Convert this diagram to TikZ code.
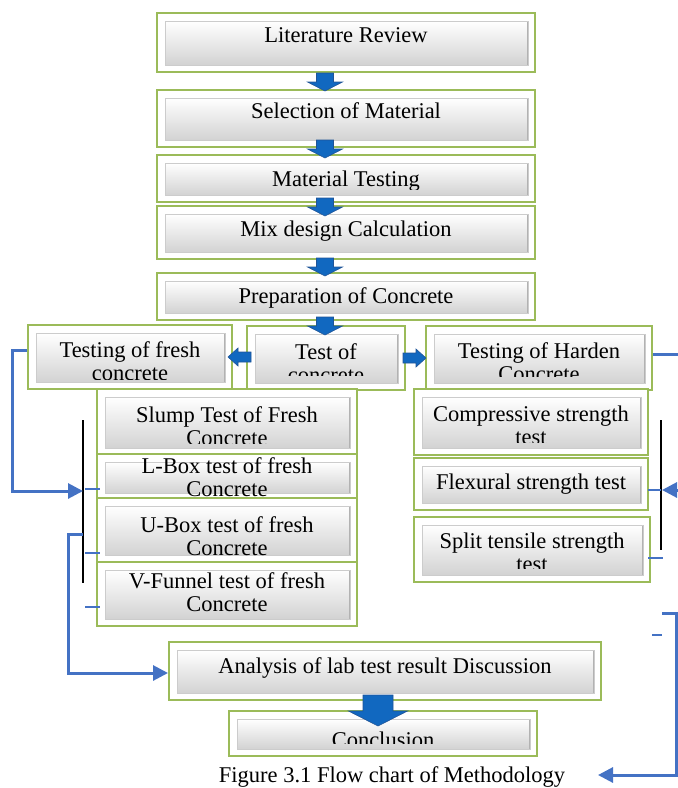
\documentclass[tikz,border=0pt]{standalone}
\usepackage{fontspec}
\setmainfont{Liberation Serif}
\usetikzlibrary{fit}
\usetikzlibrary{arrows.meta}
\definecolor{boxgreen}{RGB}{155,187,89}
\definecolor{linkblue}{RGB}{68,114,196}
\definecolor{arrowblue}{RGB}{17,104,192}
\definecolor{arrowedge}{RGB}{32,84,150}
\tikzset{
	outerbox/.style={draw=boxgreen, line width=2pt, fill=white, inner sep=0pt},
	innerbox/.style={draw=gray!40, line width=0.6pt, top color=white, middle color=white, bottom color=gray!35,
		inner sep=0pt,
		path picture={\draw[gray!60, line width=2.5pt] (path picture bounding box.north east) -- (path picture bounding box.south east);}},
	boxtext/.style={anchor=north, inner sep=0pt, align=center, font=\fontsize{22.5}{23}\selectfont},
	blockarrow/.style={fill=arrowblue, draw=arrowedge, line width=0.6pt},
	link/.style={draw=linkblue, line width=3pt, -{Triangle[length=15pt,width=15pt]}},
	tick/.style={draw=linkblue, line width=1.2pt},
	bar/.style={draw=black, line width=1.6pt},
	downarrow/.pic={\filldraw[blockarrow] (-8.5,-18) -- (8.5,-18) -- (8.5,-9) -- (17.5,-9) -- (0,0) -- (-17.5,-9) -- (-8.5,-9) -- cycle;},
	bigdown/.pic={\filldraw[blockarrow] (-15,-31) -- (15,-31) -- (15,-15) -- (29.5,-15) -- (0,0) -- (-29.5,-15) -- (-15,-15) -- cycle;},
	sidearrow/.pic={\filldraw[blockarrow] (-23,-5) -- (-10,-5) -- (-10,-9) -- (0,0) -- (-10,9) -- (-10,5) -- (-23,5) -- cycle;}
}
\begin{document}
\begin{tikzpicture}[x=1pt, y=-1pt]
	\useasboundingbox (0,0) rectangle (678,788);
	\clip (0,0) rectangle (678,788);
	% boxes: name / outer box / top of text / bottom of text clip / text
	\foreach \n/\xa/\ya/\xb/\yb/\ty/\cb/\txt in {
		lit/157/13/535/72/27/65/{Literature Review},
		sel/157/90/535/147/102/140/{Selection of Material},
		mt/157/155/535/202/171/189/{Material Testing},
		mix/157/206/535/259/221/252/{Mix design Calculation},
		prep/157/273/535/320/287/313/{Preparation of Concrete},
		fresh/28/325/232/389/341/379/{Testing of fresh\\concrete},
		test/247/326/405/390/343/375/{Test of\\concrete},
		harden/426/326/652/390/342/376/{Testing of Harden\\Concrete},
		comp/414/389/648/455/406/442/{Compressive strength\\test},
		flex/414/458/648/510/474/503/{Flexural strength test},
		split/414/517/650/582/533/568/{Split tensile strength\\test},
		slump/97/389/357/455/406/443/{Slump Test of Fresh\\Concrete},
		lbox/97/454/357/500/457/499/{L-Box test of fresh\\Concrete},
		ubox/97/498/357/562/516/556/{U-Box test of fresh\\Concrete},
		vfun/97/562/357/626/572/620/{V-Funnel test of fresh\\Concrete},
		ana/169/642/601/700/657/693/{Analysis of lab test result Discussion},
		conc/229/711/537/756/732/743/{Conclusion}}
	{
		\node[outerbox, fit={(\xa,\ya) (\xb,\yb)}] (\n) {};
		\node[innerbox, fit={(\xa+8,\ya+8) (\xb-7,\yb-7)}] (\n-in) {};
		\begin{scope}
			\clip (\xa+8,\ya+3) rectangle (\xb-7,\cb);
			\node[boxtext] (\n-txt) at ({(\xa+\xb)/2},\ty) {\txt};
		\end{scope}
	}
	\node[boxtext] (cap) at (392,766) {Figure 3.1 Flow chart of Methodology};

	% block arrows
	\pic at ([xshift=-21pt,yshift=-2pt]sel.north) {downarrow};
	\pic at ([xshift=-21pt,yshift=-4pt]mt.north) {downarrow};
	\pic at ([xshift=-21pt,yshift=-11pt]mix.north) {downarrow};
	\pic at ([xshift=-21pt,yshift=-4pt]prep.north) {downarrow};
	\pic at ([xshift=-1pt,yshift=-10pt]test.north) {downarrow};
	\pic[xscale=-1] at ([xshift=-5pt]fresh.east) {sidearrow};
	\pic at ([xshift=1pt]harden.west) {sidearrow};
	\pic at ([xshift=-5pt,yshift=-16pt]conc.north) {bigdown};

	% brackets and ticks
	\draw[bar] (83,420) -- (83,583);
	\draw[bar] (661,420) -- (661,550);
	\foreach \ty in {489,553,607}
		\draw[tick] (85,\ty) -- (100,\ty);
	\draw[tick] (648,490) -- (661,490);
	\draw[tick] (648,558) -- (663,558);
	\draw[tick] (652,635) -- (662,635);

	% connectors
	\coordinate (fbar-in) at (83,491);
	\coordinate (fbar-out) at (83,534);
	\coordinate (hbar-in) at (662,490);
	\coordinate (hook) at (662,613);
	\coordinate (cap-in) at (598,775);
	\draw[link] ([yshift=7pt]fresh.west) -- ++(-15,0) |- (fbar-in);
	\draw[link] (fbar-out) -- ++(-15,0) |- ([yshift=-2pt]ana.west);
	\draw[link] ([yshift=4pt]harden.east) -- ++(40,0) |- (hbar-in);
	\draw[link] (hook) -- ++(14,0) |- (cap-in);
\end{tikzpicture}
\end{document}
